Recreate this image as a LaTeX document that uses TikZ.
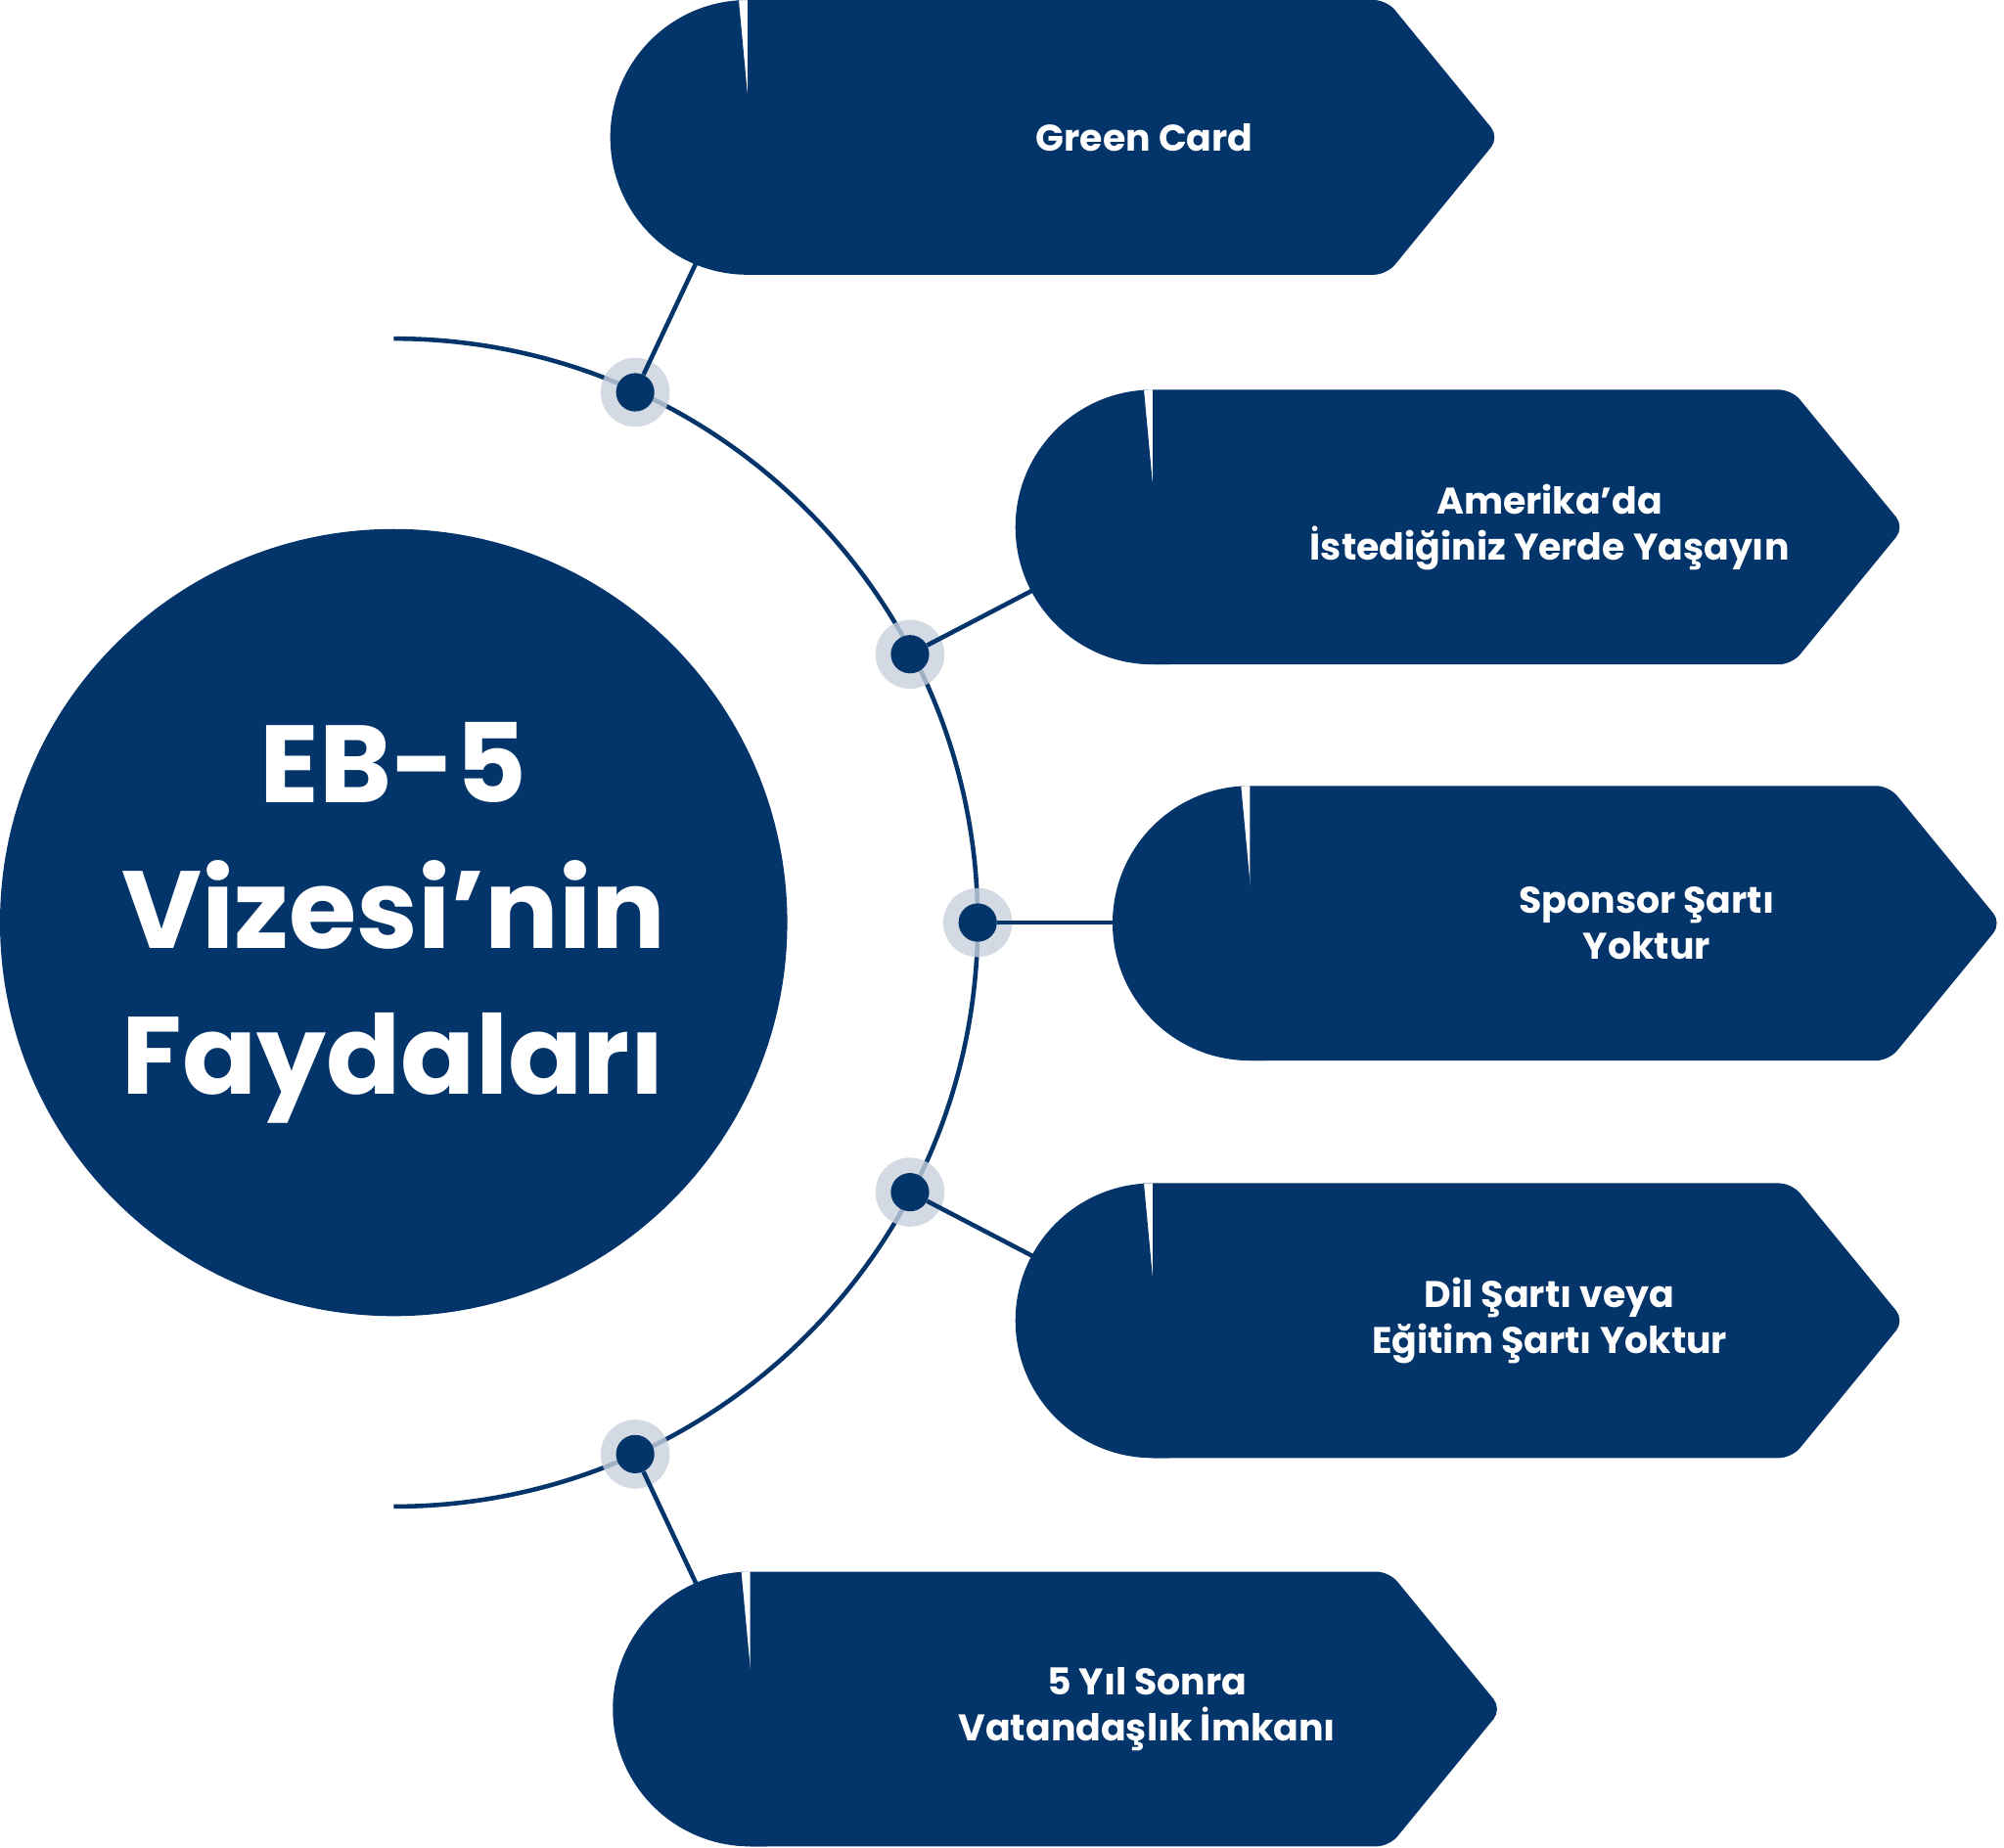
\documentclass[tikz,border=0pt]{standalone}
\usepackage{fontspec}
\setmainfont{Poppins}
\usetikzlibrary{calc}
\definecolor{navy}{HTML}{03346A}
\definecolor{halo}{HTML}{C9D1DC}
\tikzset{
  box/.style={fill=navy},
  boxtext/.style={text=white,font=\fontsize{29}{36}\selectfont\bfseries,align=center},
  dot/.style={circle,fill=navy,inner sep=0pt,minimum size=30pt},
  halo/.style={circle,fill=halo,inner sep=0pt,minimum size=54pt},
  link/.style={draw=navy,line width=3.5pt}
}
% \benefit{name}{left x}{top y}{text}
\newcommand{\benefit}[4]{%
  \fill[box,rounded corners=10] ({#2+107},#3) -- ({#2+607},#3) -- ({#2+695},{#3+107.5})
    -- ({#2+607},{#3+215}) -- ({#2+107},{#3+215});
  \fill[box] ({#2+100},#3) -- ({#2+107},#3) arc[start angle=-90,end angle=-270,radius=107.5]
    -- ({#2+120},{#3+215}) -- cycle;
  \node[boxtext] (#1) at ({#2+(#2+695-#2)/2+70},{#3+107.5}) {#4};
}
\begin{document}
\begin{tikzpicture}[x=1pt,y=-1pt]
  \useasboundingbox (0,0) rectangle (1568,1446);
  % centre
  \fill[navy] (308,722) circle[radius=308];
  \node[text=white,font=\fontsize{86}{114}\selectfont\bfseries,align=center] (title) at (308,722)
    {EB-5\\Vizesi’nin\\Faydaları};
  % arc
  \draw[link] (308,265) arc[start angle=-90,end angle=90,radius=457];
  % boxes
  \benefit{green}{478}{0}{Green Card}
  \benefit{live}{795}{305}{Amerika’da\\İstediğiniz Yerde Yaşayın}
  \benefit{sponsor}{871}{615}{Sponsor Şartı\\Yoktur}
  \benefit{lang}{795}{926}{Dil Şartı veya\\Eğitim Şartı Yoktur}
  \benefit{citizen}{480}{1230}{5 Yıl Sonra\\Vatandaşlık İmkanı}
  % dots
  \foreach \n/\p in {d1/{(497,307)},d2/{(712,512)},d3/{(765,722)},d4/{(712,933)},d5/{(497,1138)}}{
    \node[halo,opacity=0.8] at \p {};
    \node[dot] (\n) at \p {};
  }
  \coordinate (e1) at (545,205);
  \coordinate (e2) at (808,462);
  \coordinate (e3) at (872,722);
  \coordinate (e4) at (808,983);
  \coordinate (e5) at (545,1240);
  \foreach \i in {1,...,5}
    \draw[link] (d\i) -- (e\i);
\end{tikzpicture}
\end{document}
